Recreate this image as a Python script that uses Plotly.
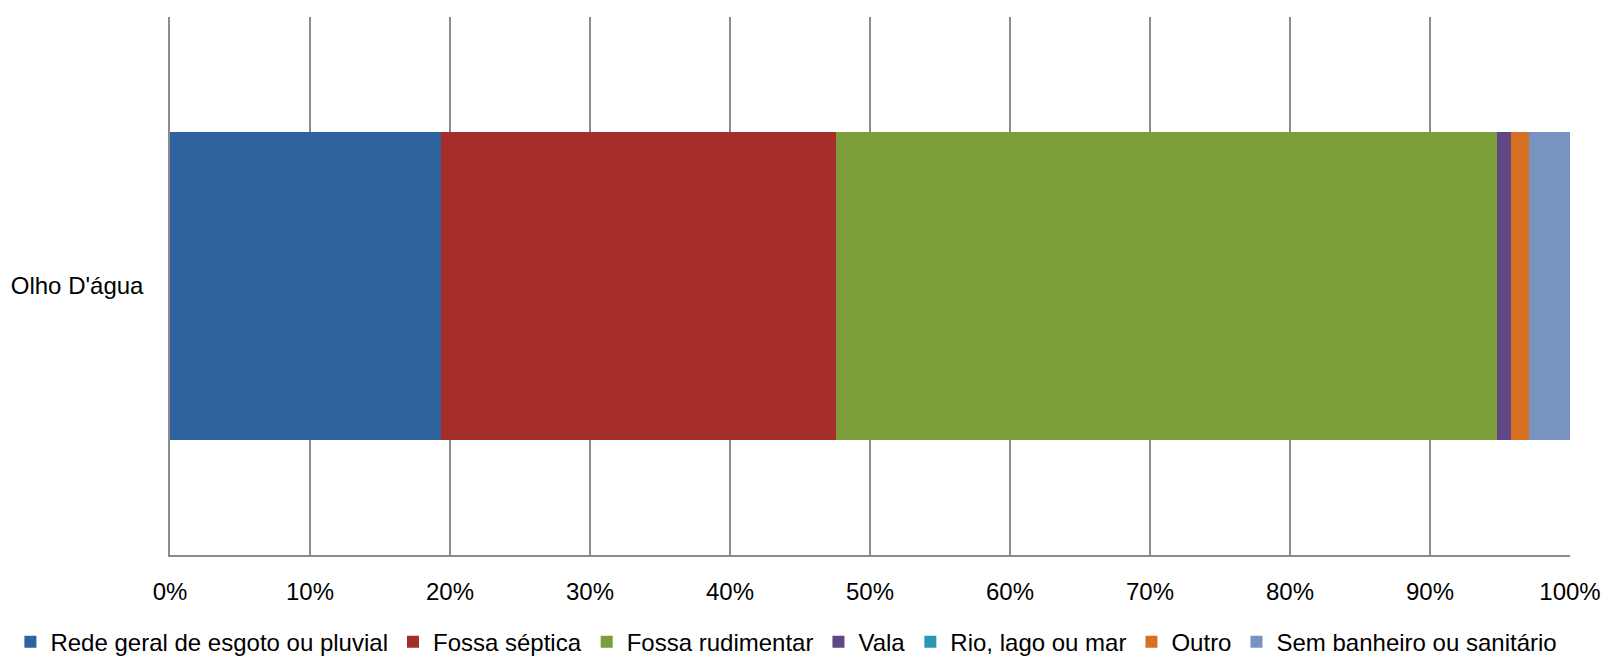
import plotly.graph_objects as go

categories = ["Olho D'água"]
series_names = ["Rede geral de esgoto ou pluvial", "Fossa séptica", "Fossa rudimentar",
                "Vala", "Rio, lago ou mar", "Outro", "Sem banheiro ou sanitário"]
series_values = [19.38, 28.17, 47.21, 1.04, 0.0, 1.27, 2.93]
series_colors = ["#2F63A0", "#A52E2B", "#7B9E3A", "#614686", "#2A97B3", "#D67123", "#7893C1"]
tick_vals = [0, 10, 20, 30, 40, 50, 60, 70, 80, 90, 100]
tick_text = [f"{v}%" for v in tick_vals]

FONT = "Liberation Sans"
FS = 24

fig = go.Figure()
for name, val, col in zip(series_names, series_values, series_colors):
    fig.add_trace(go.Bar(
        y=categories, x=[val], name=name, orientation="h",
        marker=dict(color=col, line=dict(width=0)),
        width=0.574, hoverinfo="name+x",
    ))

fig.update_layout(
    barmode="stack",
    width=1608, height=658,
    margin=dict(l=170, r=38, t=17, b=103, autoexpand=False),
    paper_bgcolor="white", plot_bgcolor="white",
    font=dict(family=FONT, size=FS, color="#000000"),
    showlegend=True,
    legend=dict(
        orientation="h", xref="paper", yref="paper",
        x=-0.114, xanchor="left", y=-0.162, yanchor="middle",
        font=dict(family=FONT, size=FS, color="#000000"),
        traceorder="normal", itemwidth=30,
        tracegroupgap=0,
    ),
    xaxis=dict(
        range=[0, 100], tickvals=tick_vals, ticktext=tick_text,
        showgrid=True, gridcolor="#8C8C8C", gridwidth=1.5,
        showline=True, linecolor="#8C8C8C", linewidth=1.5,
        zeroline=False, ticks="", ticklabelstandoff=14,
        tickfont=dict(family=FONT, size=FS, color="#000000"),
        fixedrange=True,
    ),
    yaxis=dict(
        range=[-0.5, 0.5], showgrid=False, showline=True,
        linecolor="#8C8C8C", linewidth=1.5, ticks="",
        ticklabelstandoff=20,
        tickfont=dict(family=FONT, size=FS, color="#000000"),
        fixedrange=True,
    ),
)

fig.write_html("out.html", config={"displayModeBar": False},
               post_script="document.body.style.margin='0px';")
